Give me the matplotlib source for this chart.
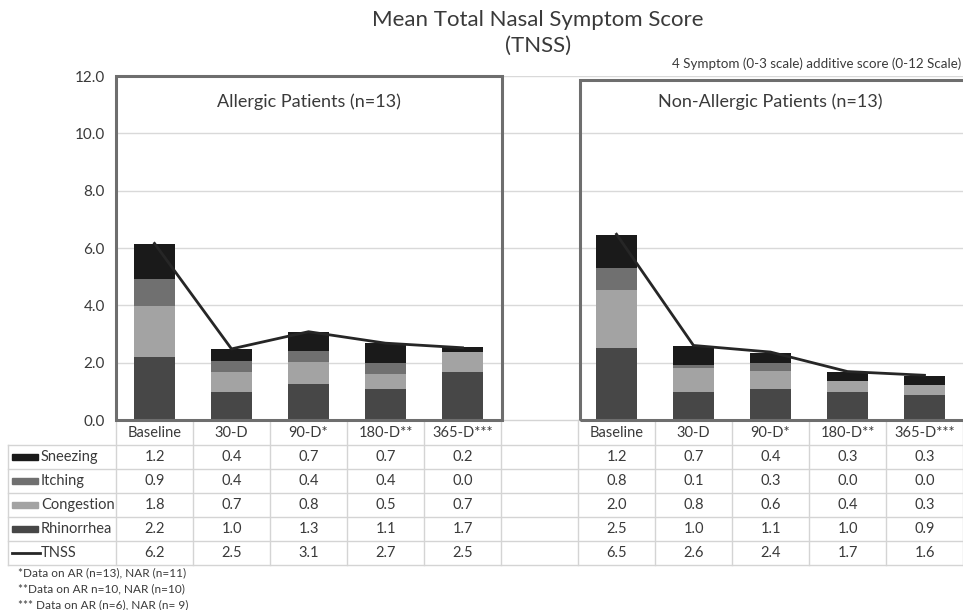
import matplotlib
matplotlib.use("Agg")
import matplotlib.pyplot as plt
import matplotlib.transforms as mtransforms
from matplotlib.patches import Rectangle
import numpy as np

plt.rcParams['font.family'] = ['Lato', 'DejaVu Sans']

# Datos (la tabla los muestra con un decimal)
categorias = ["Baseline", "30-D", "90-D*", "180-D**", "365-D***"]
sintomas = ["Sneezing", "Itching", "Congestion", "Rhinorrhea"]

ar_sneezing = [1.22, 0.40, 0.66, 0.70, 0.17]
ar_itching = [0.94, 0.38, 0.38, 0.40, 0.0]
ar_congestion = [1.78, 0.70, 0.78, 0.52, 0.70]
ar_rhinorrhea = [2.20, 0.99, 1.26, 1.08, 1.66]
ar_tnss = [6.16, 2.48, 3.08, 2.68, 2.52]

nar_sneezing = [1.16, 0.68, 0.36, 0.29, 0.34]
nar_itching = [0.77, 0.08, 0.28, 0.0, 0.0]
nar_congestion = [2.01, 0.84, 0.64, 0.38, 0.33]
nar_rhinorrhea = [2.52, 0.99, 1.07, 0.99, 0.88]
nar_tnss = [6.48, 2.60, 2.37, 1.69, 1.56]

notas = ["*Data on AR (n=13), NAR (n=11)",
         "**Data on AR n=10, NAR (n=10)",
         "*** Data on AR (n=6), NAR (n= 9)"]

colores = {"Sneezing": "#1a1a1a", "Itching": "#707070",
           "Congestion": "#a3a3a3", "Rhinorrhea": "#474747"}
color_texto = "#3a3a3a"
color_tabla = "#d4d4d4"
color_caja = "#6e6e6e"

W, H = 963, 610
fig = plt.figure(figsize=(W / 100, H / 100), dpi=100)
# ejes: x de 116 a 963 px, y de 76 a 420 px
ax = fig.add_axes([116 / W, 1 - 420 / H, 847 / W, 344 / H])
ax.set_xlim(-0.5, 10.5)
ax.set_ylim(0, 12)

x_ar = np.arange(5)
x_nar = np.arange(6, 11)

# Líneas de cuadrícula
for yv in range(2, 13, 2):
    ax.axhline(yv, color="#d9d9d9", lw=1, zorder=0)

def apilar(x, rin, con, itc, sne):
    base = np.zeros(len(x))
    for nombre, vals in [("Rhinorrhea", rin), ("Congestion", con),
                         ("Itching", itc), ("Sneezing", sne)]:
        ax.bar(x, vals, 0.52, bottom=base, color=colores[nombre], zorder=2)
        base = base + np.array(vals)

apilar(x_ar, ar_rhinorrhea, ar_congestion, ar_itching, ar_sneezing)
apilar(x_nar, nar_rhinorrhea, nar_congestion, nar_itching, nar_sneezing)
ax.plot(x_ar, ar_tnss, color="#262626", lw=2, zorder=3)
ax.plot(x_nar, nar_tnss, color="#262626", lw=2, zorder=3)

# Cajas de cada grupo
ax.add_patch(Rectangle((-0.5, 0), 5.01, 12, fill=False, ec=color_caja,
                       lw=2.2, zorder=4, clip_on=False))
ax.add_patch(Rectangle((5.53, 0), 5.2, 11.86, fill=False, ec=color_caja,
                       lw=2.2, zorder=4, clip_on=False))
ax.text(2.0, 11.1, "Allergic Patients (n=13)", ha="center", va="center",
        fontsize=13, color=color_texto)
ax.text(8.0, 11.1, "Non-Allergic Patients (n=13)", ha="center", va="center",
        fontsize=13, color=color_texto)

for s in ax.spines.values():
    s.set_visible(False)
ax.set_xticks([])
ax.set_yticks(range(0, 13, 2))
ax.set_yticklabels([f"{v:.1f}" for v in range(0, 13, 2)], fontsize=11,
                   color=color_texto)
ax.tick_params(axis="y", length=0, pad=8)

# Títulos
fig.text(538 / W, 1 - 20 / H, "Mean Total Nasal Symptom Score", ha="center",
         va="center", fontsize=16, color=color_texto)
fig.text(538 / W, 1 - 46 / H, "(TNSS)", ha="center", va="center",
         fontsize=16, color=color_texto)
fig.text(672 / W, 1 - 64 / H, "4 Symptom (0-3 scale) additive score (0-12 Scale)",
         ha="left", va="center", fontsize=9.6, color=color_texto)

# Tabla de datos debajo del eje
def ypx(py):
    return (420 - py) / 344

def xpx(px):
    return (px - 116) / 847

tr = mtransforms.blended_transform_factory(ax.transData, ax.transAxes)

bordes_filas = [445, 469, 493, 517, 541, 565]
ax.plot([xpx(116), 1.01], [ypx(420)] * 2, transform=ax.transAxes,
        color=color_tabla, lw=1, clip_on=False, zorder=1)
for py in bordes_filas:
    ax.plot([xpx(8), 1.01], [ypx(py)] * 2, transform=ax.transAxes,
            color=color_tabla, lw=1, clip_on=False, zorder=1)
ax.plot([xpx(8)] * 2, [ypx(445), ypx(565)], transform=ax.transAxes,
        color=color_tabla, lw=1, clip_on=False, zorder=1)
for i in range(12):
    ax.plot([i - 0.5] * 2, [ypx(420), ypx(565)], transform=tr,
            color=color_tabla, lw=1, clip_on=False, zorder=1)

for xi, cat in zip(x_ar, categorias):
    ax.text(xi, ypx(433), cat, transform=tr, ha="center", va="center",
            fontsize=10.5, color=color_texto)
for xi, cat in zip(x_nar, categorias):
    ax.text(xi, ypx(433), cat, transform=tr, ha="center", va="center",
            fontsize=10.5, color=color_texto)

filas_ar = [ar_sneezing, ar_itching, ar_congestion, ar_rhinorrhea, ar_tnss]
filas_nar = [nar_sneezing, nar_itching, nar_congestion, nar_rhinorrhea, nar_tnss]
nombres_filas = sintomas + ["TNSS"]
for r, (nombre, va_ar, va_nar) in enumerate(zip(nombres_filas, filas_ar, filas_nar)):
    yc = ypx(bordes_filas[r] + 12)
    for xi, v in zip(x_ar, va_ar):
        ax.text(xi, yc, f"{v:.1f}", transform=tr, ha="center", va="center",
                fontsize=10.5, color=color_texto)
    for xi, v in zip(x_nar, va_nar):
        ax.text(xi, yc, f"{v:.1f}", transform=tr, ha="center", va="center",
                fontsize=10.5, color=color_texto)
    ax.text(xpx(41), yc, nombre, transform=ax.transAxes, ha="left",
            va="center", fontsize=10.5, color=color_texto)
    if nombre == "TNSS":
        ax.plot([xpx(12), xpx(40)], [yc, yc], transform=ax.transAxes,
                color="#262626", lw=2, clip_on=False)
    else:
        ax.add_patch(Rectangle((xpx(12), yc - 3 / 344), 26 / 847, 6 / 344,
                               transform=ax.transAxes, color=colores[nombre],
                               clip_on=False))

for k, nota in enumerate(notas):
    fig.text(18 / W, 1 - (573 + 16 * k) / H, nota, ha="left", va="center",
             fontsize=8.5, color=color_texto)

fig.savefig("out.png", dpi=100)
